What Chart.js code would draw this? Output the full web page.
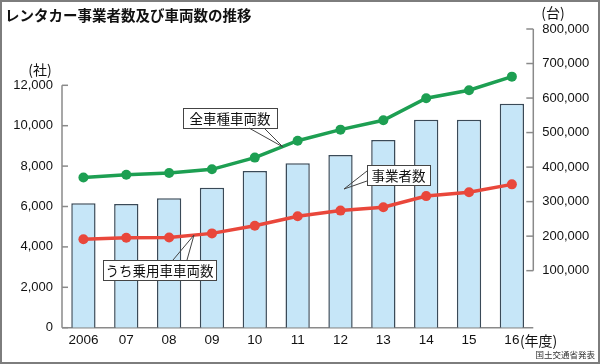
<!DOCTYPE html>
<html>
<head>
<meta charset="utf-8">
<script src="https://cdn.jsdelivr.net/npm/chart.js@4"></script>
<style>
  html, body { margin: 0; padding: 0; background: #fff; }
  canvas { display: block; }
</style>
</head>
<body>
<canvas id="chart" width="600" height="364"></canvas>
<script>
'use strict';

// data
const years = ['2006', '07', '08', '09', '10', '11', '12', '13', '14', '15', '16'];
const operators = [6160, 6120, 6410, 6930, 7760, 8140, 8550, 9290, 10300, 10300, 11090];
const allVehicles = [370000, 378000, 383000, 393500, 427500, 476500, 508500, 535500, 599500, 622500, 662000];
const passengerCars = [191000, 195500, 196000, 208000, 230000, 257500, 274000, 283500, 316000, 327000, 350000];
const leftTicks = [0, 2000, 4000, 6000, 8000, 10000, 12000];
const rightTicks = [100000, 200000, 300000, 400000, 500000, 600000, 700000, 800000];

const jp = "'Noto Sans CJK JP', sans-serif";
const num = "'Liberation Sans', sans-serif";
const axisGray = '#8a8a8a';

function line(ctx, x1, y1, x2, y2) {
  ctx.beginPath();
  ctx.moveTo(x1, y1);
  ctx.lineTo(x2, y2);
  ctx.stroke();
}

//callout box with a two-line pointer
function callout(ctx, text, x, y, w, h, tail) {
  ctx.save();
  ctx.fillStyle = '#fff';
  ctx.strokeStyle = '#444';
  ctx.lineWidth = 1;
  ctx.fillRect(x, y, w, h);
  ctx.strokeRect(x + 0.5, y + 0.5, w, h);
  line(ctx, tail[0][0], tail[0][1], tail[2][0], tail[2][1]);
  line(ctx, tail[1][0], tail[1][1], tail[2][0], tail[2][1]);
  ctx.fillStyle = '#111';
  ctx.font = '13.5px ' + jp;
  ctx.textAlign = 'center';
  ctx.textBaseline = 'middle';
  ctx.fillText(text, x + w / 2, y + h / 2 + 1);
  ctx.restore();
}

const decor = {
  id: 'decor',
  beforeDraw(chart) {
    const ctx = chart.ctx;
    ctx.save();
    ctx.fillStyle = '#fff';
    ctx.fillRect(0, 0, chart.width, chart.height);
    ctx.restore();
  },
  beforeDatasetsDraw(chart) {
    const ctx = chart.ctx;
    const a = chart.chartArea;
    const L = chart.scales.y;
    const R = chart.scales.y2;
    ctx.save();
    ctx.strokeStyle = axisGray;
    ctx.lineWidth = 1.5;
    // left axis, ticks point inward
    line(ctx, a.left, L.getPixelForValue(12000), a.left, L.getPixelForValue(0));
    leftTicks.forEach(function(v) {
      const p = L.getPixelForValue(v);
      line(ctx, a.left, p, a.left + 6, p);
    });
    // baseline
    line(ctx, a.left, L.getPixelForValue(0), a.right, L.getPixelForValue(0));
    // right axis
    line(ctx, a.right, R.getPixelForValue(800000), a.right, R.getPixelForValue(100000));
    rightTicks.forEach(function(v) {
      const p = R.getPixelForValue(v);
      line(ctx, a.right - 7, p, a.right, p);
    });
    ctx.restore();
  },
  afterDraw(chart) {
    const ctx = chart.ctx;
    const X = chart.scales.x;
    ctx.save();

    // title
    ctx.fillStyle = '#111';
    ctx.font = 'bold 14.5px ' + jp;
    ctx.textBaseline = 'middle';
    ctx.textAlign = 'left';
    ctx.fillText('レンタカー事業者数及び車両数の推移', 5, 15);

    // units
    ctx.font = '14px ' + jp;
    ctx.textAlign = 'center';
    ctx.fillText('(社)', 40, 70);
    ctx.fillText('(台)', 553, 13);

    // fiscal year suffix next to the last label
    const lastX = X.getPixelForValue(years.length - 1);
    ctx.textAlign = 'left';
    ctx.fillText('(年度)', lastX + 8, 341);

    // source
    ctx.font = '8.5px ' + jp;
    ctx.textAlign = 'right';
    ctx.fillStyle = '#333';
    ctx.fillText('国土交通省発表', 595, 355);
    ctx.restore();

    callout(ctx, '全車種車両数', 183, 108, 94, 20, [[249, 128], [264, 128], [283, 147]]);
    callout(ctx, '事業者数', 367, 165, 63, 20, [[367, 171], [367, 181], [344, 189]]);
    callout(ctx, 'うち乗用車車両数', 103, 260, 113, 20, [[173, 260], [187, 260], [194, 235]]);

    // outer frame
    ctx.save();
    ctx.strokeStyle = '#7d7d7d';
    ctx.lineWidth = 2;
    ctx.strokeRect(1, 1, chart.width - 2, chart.height - 2);
    ctx.restore();
  }
};

const tickFont = { family: num, size: 13 };

new Chart(document.getElementById('chart'), {
  data: {
    labels: years,
    datasets: [{
      type: 'line',
      label: '全車種車両数',
      data: allVehicles,
      yAxisID: 'y2',
      borderColor: '#1d9f52',
      backgroundColor: '#1d9f52',
      borderWidth: 3.5,
      pointRadius: 5,
      pointBorderWidth: 0,
      order: 1
    }, {
      type: 'line',
      label: 'うち乗用車車両数',
      data: passengerCars,
      yAxisID: 'y2',
      borderColor: '#e9473b',
      backgroundColor: '#e9473b',
      borderWidth: 3.5,
      pointRadius: 5,
      pointBorderWidth: 0,
      order: 2
    }, {
      type: 'bar',
      label: '事業者数',
      data: operators,
      yAxisID: 'y',
      backgroundColor: '#c6e6f8',
      borderColor: '#3a4a58',
      borderWidth: 1.5,
      categoryPercentage: 1,
      barPercentage: 0.567,
      order: 3
    }]
  },
  options: {
    responsive: false,
    animation: false,
    devicePixelRatio: 1,
    layout: { padding: { top: 29, left: 0, right: 0, bottom: 0 } },
    plugins: {
      legend: { display: false },
      tooltip: { enabled: false }
    },
    scales: {
      x: {
        offset: true,
        grid: { display: false, drawTicks: false },
        border: { display: false },
        ticks: { font: { family: num, size: 13.5 }, color: '#111', padding: 4, maxRotation: 0, autoSkip: false },
        afterFit: function(s) { s.height = 36.3; }
      },
      y: {
        position: 'left',
        min: 0,
        max: 14787,
        grid: { display: false, drawTicks: false },
        border: { display: false },
        ticks: {
          font: tickFont, color: '#111', padding: 9,
          callback: function(v) { return v.toLocaleString('en-US'); }
        },
        afterBuildTicks: function(s) { s.ticks = leftTicks.map(function(v) { return { value: v }; }); },
        afterFit: function(s) { s.width = 62; }
      },
      y2: {
        position: 'right',
        min: -65200,
        max: 800000,
        grid: { display: false, drawTicks: false },
        border: { display: false },
        ticks: {
          font: tickFont, color: '#111', padding: 9,
          callback: function(v) { return v.toLocaleString('en-US'); }
        },
        afterBuildTicks: function(s) { s.ticks = rightTicks.map(function(v) { return { value: v }; }); },
        afterFit: function(s) { s.width = 66.7; }
      }
    }
  },
  plugins: [decor]
});
</script>
</body>
</html>
